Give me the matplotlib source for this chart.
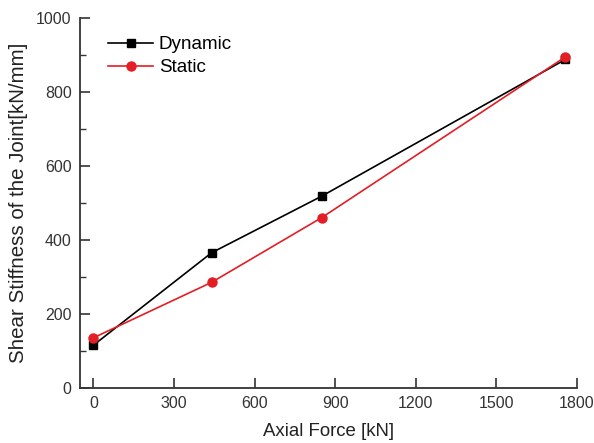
import matplotlib
matplotlib.use("Agg")
import matplotlib.pyplot as plt
from matplotlib.ticker import MultipleLocator

plt.rcParams['font.family'] = ['Liberation Sans', 'DejaVu Sans']

axial_force = [0, 440, 850, 1758]
dynamic = [115, 365, 518, 888]
static = [135, 285, 460, 895]

fig = plt.figure(figsize=(5.94, 4.43), dpi=100)
ax = fig.add_axes([0.1347, 0.1248, 0.8363, 0.8346])

ax.plot(axial_force, dynamic, color='black', lw=1.2, marker='s', markersize=6, label='Dynamic', zorder=3)
ax.plot(axial_force, static, color='#e31e24', lw=1.2, marker='o', markersize=6.5, label='Static', zorder=4)

ax.set_xlim(-50, 1800)
ax.set_ylim(0, 1000)
ax.xaxis.set_major_locator(MultipleLocator(300))
ax.yaxis.set_major_locator(MultipleLocator(200))
ax.yaxis.set_minor_locator(MultipleLocator(100))

for s in ['top', 'right']:
    ax.spines[s].set_visible(False)
for s in ['left', 'bottom']:
    ax.spines[s].set_color('#333333')
    ax.spines[s].set_linewidth(1.3)

ax.tick_params(axis='both', which='major', direction='in', length=7, width=1.2,
               labelsize=11.5, colors='#333333', pad=6)
ax.tick_params(axis='y', which='minor', direction='in', length=4, width=1.0, colors='#333333')

ax.set_xlabel('Axial Force [kN]', fontsize=13.4, color='#222222', labelpad=8.5)
ax.set_ylabel('Shear Stiffness of the Joint[kN/mm]', fontsize=14.8, color='#222222', labelpad=6)

ax.legend(loc='upper left', frameon=False, fontsize=13.6, bbox_to_anchor=(0.022, 0.997),
          handlelength=2.4, handletextpad=0.3, labelspacing=0.3, borderpad=0.4)

fig.savefig('out.png', dpi=100)
